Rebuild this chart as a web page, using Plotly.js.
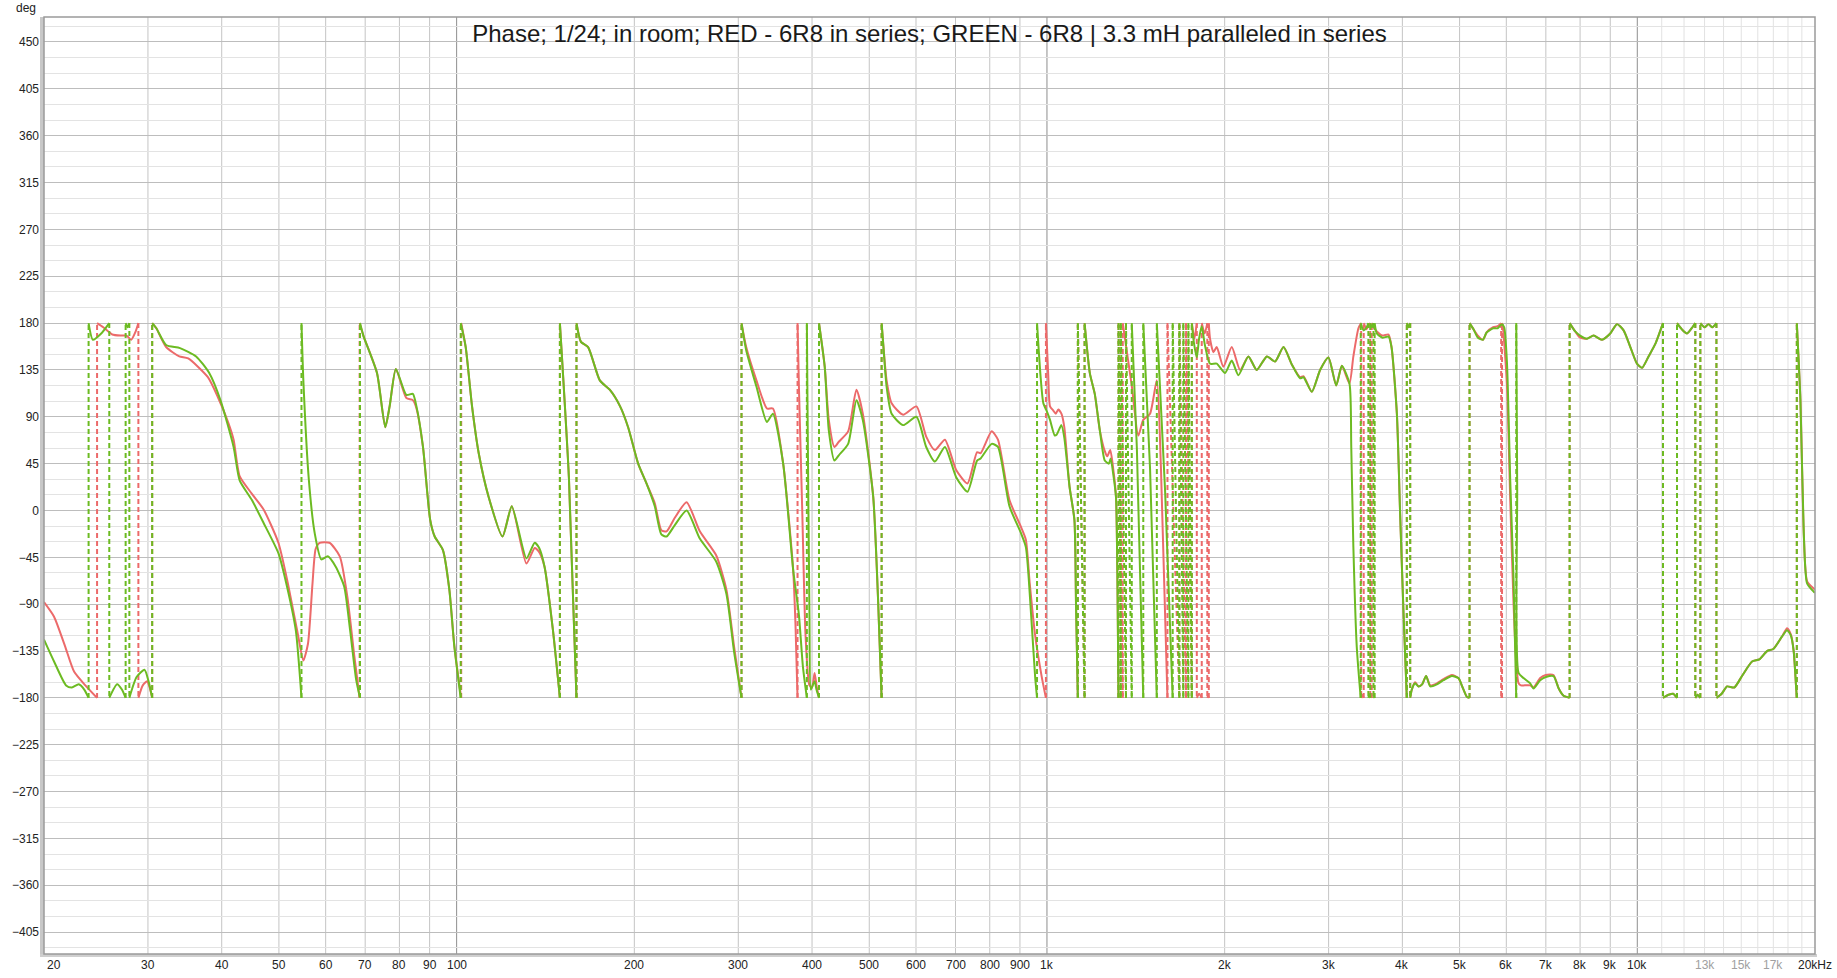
<!DOCTYPE html>
<html>
<head>
<meta charset="utf-8">
<script src="https://cdn.plot.ly/plotly-3.0.1.min.js"></script>
<style>
html,body{margin:0;padding:0;background:#fff;}
#chart{width:1837px;height:978px;}
</style>
</head>
<body>
<div id="chart"></div>
<script>
// ---------- DATA (frequency Hz, phase deg) ----------
const titleText = "Phase; 1/24; in room; RED - 6R8 in series; GREEN - 6R8 | 3.3 mH paralleled in series";

const redData = [
[20,-88],[20.8,-102],[21.7,-130],[22.5,-155],[23.5,-168],[24.6,-180],[24.6,180],[25.2,176],[26.1,169],[27,168],[27.6,168],[28.1,164],[28.6,172],[28.9,180],[28.9,-180],[29.4,-168],[29.9,-164],[30.2,-170],[30.5,-180],[30.5,180],
[31,175],[32.2,157],[33.9,148],[35.1,146],[37.9,128],[39.4,109],[41,85],[41.9,68],[42.9,33],[45,16],[47.1,1],[49.9,-31],[51.6,-66],[53.8,-118],[55,-144],[56,-128],[57,-70],[57.7,-37],[58.6,-31],[60.9,-31],[63.4,-44],[65.3,-83],[67.1,-140],[68.5,-180],[68.5,180],
[69.5,168],[73.3,132],[75.7,80],[77,100],[78.9,136],[82.2,108],[84.3,106],[85.5,98],[87.7,61],[90.2,-9],[91.8,-25],[94.8,-38],[97.2,-76],[99.1,-130],[101.8,-180],[101.8,180],
[103.6,157],[106.2,100],[109,55],[113.3,13],[119.6,-25],[124,4],[131.3,-51],[135.6,-36],[138,-40],[140.9,-54],[145.6,-115],[149.6,-180],[149.6,180],[155,30],[159.6,-180],[159.6,180],
[162.4,162],[167,157],[174.8,125],[181.7,116],[189.2,100],[195.2,80],[203,45],[209.7,26],[216.6,7],[222.2,-19],[226.8,-20],[234.2,-7],[245.2,8],[258.2,-20],[275.2,-43],[286.4,-76],[295,-130],[303.8,-180],[303.8,180],
[309.4,157],[322,125],[335.4,98],[343.4,98],[357.4,45],[371.6,-57],[375,-110],[378,-180],[378,180],[380,120],[385,0],[390,-120],[396,-168],[400,-170],[404,-156],[407,-168],[411,-180],[411,180],
[420.3,138],[427,87],[436.5,61],[444,66],[460.5,76],[475.6,116],[487.6,93],[507.8,13],[517.3,-83],[524.7,-180],[524.7,180],
[528,160],[535,125],[545.6,103],[570.6,92],[601,100],[624.4,71],[646,58],[671.6,68],[701.8,39],[733.4,26],[761.4,56],[772,55],[806,76],[826,68],[864,10],[904,-16],[921,-28],[935,-70],[955,-120],[980,-160],[996,-180],[996,180],
[1005,130],[1012,100],[1025,96],[1035,93],[1045,97],[1058,93],[1070,80],[1092,23],[1113,-9],[1120,-90],[1128,-180],[1128,180],[1158,-180],[1158,180],
[1182,132],[1205,112],[1229,77],[1253,57],[1265,52],[1280,58],[1295,40],[1309,13],[1316,-60],[1322,-180],[1322,180],[1344,-180],[1344,180],
[1392,120],[1428,72],[1456,87],[1495,93],[1535,125],[1560,40],[1600,-180],[1600,180],[1676,-180],[1676,180],[1720,-180],[1720,180],[1760,-180],[1760,180],
[1777,165],[1794,180],[1794,-180],[1810,-176],[1829,-180],[1829,180],[1850,170],[1869,180],[1869,-180],[1875,-178],[1880,-180],[1880,180],[1889,165],
[1914,152],[1939,157],[1990,138],[2056,157],[2124,135],[2194,148],[2266,135],[2358,148],[2434,143],[2516,157],[2600,140],[2684,128],[2720,129],[2810,114],[2902,135],[2998,147],[3090,120],[3159,139],[3254,122],[3304,148],[3370,175],[3406,180],[3406,-180],[3420,-177],[3440,-180],[3440,180],[3480,174],[3503,178],
[3529,180],[3529,-180],[3540,-178],[3550,-180],[3550,180],[3574,176],[3621,172],[3700,168],[3790,169],[3834,157],[3915,93],[3965,-3],[4018,-99],[4070,-180],[4070,180],[4095,176],[4124,180],[4124,-180],
[4150,-172],[4204,-165],[4260,-169],[4320,-167],[4388,-159],[4460,-168],[4576,-166],[4696,-162],[4852,-158],[4978,-161],[5060,-170],[5144,-179],[5198,-180],[5198,180],
[5280,174],[5370,168],[5477,164],[5556,171],[5700,176],[5800,177],[5880,180],[5880,-180],[5890,-178],[5900,-180],[5900,180],[5920,176],[6016,120],[6092,10],[6172,-90],[6237,-146],[6293,-166],[6350,-168],[6416,-168],[6586,-168],[6672,-170],[6848,-161],[7000,-158],[7212,-158],[7360,-171],[7500,-178],[7680,-180],[7680,180],
[7850,172],[8000,166],[8218,165],[8432,168],[8712,164],[9000,170],[9238,179],[9480,173],[9732,157],[9988,141],[10186,137],[10450,148],[10728,160],[11054,180],[11054,-180],[11300,-177],[11500,-176],[11675,-180],[11675,180],
[11900,174],[12140,170],[12400,176],[12540,180],[12540,-180],[12650,-177],[12788,-180],[12788,180],[13000,176],[13200,179],[13400,176],[13616,180],[13616,-180],
[13900,-176],[14192,-169],[14600,-170],[15044,-159],[15648,-145],[16100,-143],[16590,-135],[17000,-133],[17588,-121],[17936,-113],[18200,-119],[18404,-135],[18580,-170],[18630,-180],[18630,180],[18894,106],[19144,-22],[19392,-68],[19904,-75],[20000,-76]
];

const greenData = [
[20,-124],[20.8,-145],[21.8,-168],[22.3,-170],[22.9,-167],[23.4,-172],[23.8,-180],[23.8,180],[24.2,164],[25,170],[25.8,180],[25.8,-180],[26.6,-167],[27.1,-172],[27.5,-180],[27.5,180],[27.7,176],[27.9,180],[27.9,-180],
[28.7,-160],[29.6,-153],[30.1,-165],[30.5,-180],[30.5,180],
[31,175],[32.2,159],[34,156],[36.2,148],[38.1,132],[39.8,106],[41.9,61],[42.9,29],[45,10],[47.1,-12],[49.9,-41],[51.6,-73],[53.4,-115],[54.6,-180],[54.6,180],
[55,125],[56.2,29],[57.5,-22],[59,-47],[60.5,-44],[62.4,-54],[64.5,-73],[66,-115],[67.6,-163],[68.6,-180],[68.6,180],
[69.5,168],[73.3,132],[75.7,80],[77,100],[78.9,136],[82.2,111],[84.3,112],[85.5,100],[87.7,61],[90.2,-9],[91.8,-25],[94.8,-38],[97.2,-76],[99.1,-130],[101.6,-180],[101.6,180],
[103.6,157],[106.2,100],[109,55],[113.3,13],[119.6,-25],[124,4],[131.3,-46],[135.6,-31],[138,-36],[140.9,-54],[145.6,-115],[149.6,-180],[149.6,180],[155,30],[159.6,-180],[159.6,180],
[162.4,162],[167,157],[174.8,125],[181.7,116],[189.2,100],[195.2,80],[203,45],[209.7,26],[216.6,4],[222.2,-23],[226.8,-25],[234.2,-14],[245.2,0],[258.2,-27],[275.2,-49],[286.4,-80],[295,-135],[303.8,-180],[303.8,180],
[309.4,154],[322,119],[335.4,85],[343.4,93],[357.4,45],[371.6,-57],[380,-100],[386,-150],[392,-180],[392,180],[393,100],[396,-100],[398,-172],[401,-168],[404,-164],[407,-172],[411,-180],[411,180],
[420.3,138],[427,77],[436.5,48],[444,53],[460.5,64],[475.6,106],[487.6,87],[507.8,13],[517.3,-83],[524.7,-180],[524.7,180],
[528,160],[535,119],[545.6,93],[570.6,82],[601,90],[624.4,61],[646,47],[671.6,61],[701.8,32],[733.4,18],[761.4,48],[772,50],[806,64],[826,61],[864,4],[904,-22],[921,-35],[940,-100],[955,-160],[962,-180],[962,180],
[975,130],[986,103],[1000,95],[1012,87],[1031,72],[1039,73],[1058,82],[1070,70],[1092,23],[1113,-9],[1120,-90],[1128,-180],[1128,180],[1158,-180],[1158,180],
[1182,132],[1205,112],[1229,77],[1253,48],[1273,45],[1282,50],[1295,35],[1309,13],[1316,-60],[1322,-180],[1322,180],[1334,-180],[1334,180],[1361,-180],[1361,180],[1392,-180],[1392,180],
[1420,60],[1456,-180],[1456,180],[1495,40],[1535,-180],[1535,180],[1585,20],[1633,-180],[1633,180],[1676,-180],[1676,180],[1702,-180],[1702,180],[1736,-180],[1736,180],[1759,-180],[1759,180],
[1775,160],[1794,147],[1810,165],[1829,177],[1850,160],[1889,141],[1939,141],[2003,132],[2056,144],[2110,130],[2194,148],[2266,135],[2358,148],[2434,143],[2516,157],[2600,140],[2684,127],[2720,128],[2810,114],[2902,135],[2998,147],[3090,120],[3159,139],[3254,122],
[3277,61],[3304,-35],[3348,-131],[3400,-180],[3400,180],[3437,173],[3480,176],[3503,180],[3503,-180],[3515,-177],[3529,-180],[3529,180],[3550,176],[3574,180],[3574,-180],[3580,-179],[3590,-180],[3590,180],
[3621,170],[3700,166],[3790,167],[3834,157],[3915,93],[3965,-3],[4018,-99],[4070,-180],[4070,180],[4095,176],[4124,180],[4124,-180],
[4150,-172],[4204,-166],[4260,-169],[4320,-167],[4388,-159],[4460,-169],[4576,-167],[4696,-163],[4852,-159],[4978,-161],[5060,-170],[5144,-179],[5198,-180],[5198,180],
[5280,174],[5370,166],[5477,164],[5556,171],[5700,175],[5800,175],[5898,179],[5950,176],[6016,141],[6092,29],[6172,-67],[6237,-180],[6237,180],[6260,20],[6293,-156],[6416,-161],[6586,-166],[6672,-171],[6848,-163],[7000,-160],[7212,-159],[7360,-171],[7500,-178],[7680,-180],[7680,180],
[7850,172],[8000,168],[8218,165],[8432,168],[8712,164],[9000,170],[9238,179],[9480,173],[9732,157],[9988,141],[10186,137],[10450,148],[10728,160],[11054,180],[11054,-180],[11300,-177],[11500,-176],[11675,-180],[11675,180],
[11900,174],[12140,170],[12400,176],[12540,180],[12540,-180],[12650,-177],[12788,-180],[12788,180],[13000,176],[13200,179],[13400,176],[13616,180],[13616,-180],
[13900,-176],[14192,-169],[14600,-170],[15044,-159],[15648,-145],[16100,-143],[16590,-135],[17000,-133],[17588,-121],[17936,-115],[18200,-120],[18404,-135],[18580,-170],[18630,-180],[18630,180],[18894,106],[19144,-22],[19392,-70],[19904,-78],[20000,-79]
];

// x tick labels and grid frequencies
const xTickVals   = [20,30,40,50,60,70,80,90,100,200,300,400,500,600,700,800,900,1000,2000,3000,4000,5000,6000,7000,8000,9000,10000,13000,15000,17000,20000];
const xTickText   = ["20","30","40","50","60","70","80","90","100","200","300","400","500","600","700","800","900","1k","2k","3k","4k","5k","6k","7k","8k","9k","10k","13k","15k","17k","20kHz"];
const xTickFaint  = ["13k","15k","17k"];
const xGridDecade = [100,1000,10000];
const xGridMain   = [30,40,50,60,70,80,90,200,300,400,500,600,700,800,900,2000,3000,4000,5000,6000,7000,8000,9000];
const xGridFine   = [11000,12000,13000,14000,15000,16000,17000,18000,19000];

// ---------- build ----------
const RED = '#ec6a6a', GREEN = '#6cbb22';
const L=44, R=1815, T=17, B=954;
const fmin=20, fmax=20000;
const lx = f => (Math.log10(f)-Math.log10(fmin))/(Math.log10(fmax)-Math.log10(fmin));
const px = p => (p-L)/(R-L);
const py = p => (B-p)/(B-T);

function build(data){
  const sx=[], sy=[], dx=[], dy=[];
  for(let i=0;i<data.length;i++){
    const [f,p]=data[i];
    if(i>0){
      const [pf,pp]=data[i-1];
      if(Math.abs(p-pp)>270){
        sx.push(null); sy.push(null);
        dx.push(pf,f,null); dy.push(pp,p,null);
      }
    }
    sx.push(f); sy.push(p);
  }
  return {sx,sy,dx,dy};
}
const r=build(redData), g=build(greenData);

const traces=[
  {x:r.dx,y:r.dy,mode:'lines',line:{color:RED,width:2,dash:'5px,3px'},hoverinfo:'skip',showlegend:false},
  {x:r.sx,y:r.sy,mode:'lines',line:{color:RED,width:2,shape:'spline',smoothing:0.6},connectgaps:false,showlegend:false},
  {x:g.dx,y:g.dy,mode:'lines',line:{color:GREEN,width:2,dash:'5px,3px'},hoverinfo:'skip',showlegend:false},
  {x:g.sx,y:g.sy,mode:'lines',line:{color:GREEN,width:2,shape:'spline',smoothing:0.6},connectgaps:false,showlegend:false}
];

const shapes=[];
xGridFine.forEach(f=>shapes.push({type:'line',xref:'paper',yref:'paper',x0:lx(f),x1:lx(f),y0:0,y1:1,line:{color:'#e2e2e2',width:1},layer:'below'}));
xGridMain.forEach(f=>shapes.push({type:'line',xref:'paper',yref:'paper',x0:lx(f),x1:lx(f),y0:0,y1:1,line:{color:'#c4c4c4',width:1},layer:'below'}));
xGridDecade.forEach(f=>shapes.push({type:'line',xref:'paper',yref:'paper',x0:lx(f),x1:lx(f),y0:0,y1:1,line:{color:'#8e8e8e',width:1},layer:'below'}));
// frame with bevel
shapes.push({type:'rect',xref:'paper',yref:'paper',x0:px(40),x1:px(44),y0:py(B+3),y1:py(T),fillcolor:'#c8c8c8',line:{width:0},layer:'above'});
shapes.push({type:'rect',xref:'paper',yref:'paper',x0:px(40),x1:px(R+2),y0:py(B+3),y1:py(B),fillcolor:'#cfcfcf',line:{width:0},layer:'above'});
shapes.push({type:'rect',xref:'paper',yref:'paper',x0:0,x1:1,y0:0,y1:1,line:{color:'#9a9a9a',width:1.5},layer:'above'});

const annotations=[];
xTickVals.forEach((f,i)=>{
  const t=xTickText[i];
  annotations.push({xref:'paper',yref:'paper',x:(i===0?px(45):lx(f)),y:py(965),text:t,showarrow:false,
    xanchor:(i===0?'left':'center'),yanchor:'middle',
    font:{family:'Liberation Sans, Arial, sans-serif',size:12,color:(xTickFaint.includes(t)?'#a0a0a0':'#222')}});
});
annotations.push({xref:'paper',yref:'paper',x:px(38),y:py(8),text:'deg',showarrow:false,xanchor:'right',yanchor:'middle',
  font:{family:'Liberation Sans, Arial, sans-serif',size:12,color:'#222'}});

const layout={
  width:1837,height:978,
  margin:{l:L,r:1837-R,t:T,b:978-B,pad:0},
  paper_bgcolor:'#fff',plot_bgcolor:'#fff',
  title:{text:titleText,x:0.5,xref:'paper',xanchor:'center',y:1-34/978,yref:'container',yanchor:'middle',
    font:{family:'Liberation Sans, Arial, sans-serif',size:24,color:'#1a1a1a'}},
  showlegend:false,
  xaxis:{type:'log',range:[Math.log10(fmin),Math.log10(fmax)],showgrid:false,showticklabels:false,zeroline:false,showline:false,ticks:''},
  yaxis:{range:[-426,474],tick0:0,dtick:45,showgrid:true,gridcolor:'#bdbdbd',gridwidth:1,zeroline:false,showline:false,ticks:'',
    minor:{dtick:15,tick0:0,showgrid:true,gridcolor:'#e3e3e3',gridwidth:1},
    tickfont:{family:'Liberation Sans, Arial, sans-serif',size:12,color:'#222'},ticklabelstandoff:4},
  shapes:shapes,annotations:annotations
};
Plotly.newPlot('chart',traces,layout,{staticPlot:true,displayModeBar:false});
</script>
</body>
</html>
